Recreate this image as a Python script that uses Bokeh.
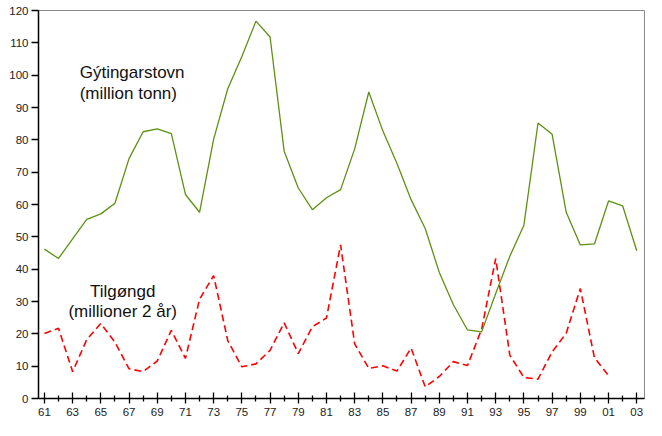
from bokeh.plotting import figure
from bokeh.models import FixedTicker, Range1d
from bokeh.core.properties import value
from bokeh.embed import file_html
from bokeh.resources import INLINE

years = list(range(1961, 2004))
gytingarstovn = [46.2, 43.3, 49.4, 55.4, 57.1, 60.4, 74.2, 82.5, 83.4, 81.9,
                 63.1, 57.6, 80.2, 95.8, 105.8, 116.7, 111.8, 76.5, 65.1, 58.4,
                 62.1, 64.6, 77.2, 94.8, 82.7, 72.7, 61.5, 52.6, 39.0, 29.0,
                 21.2, 20.6, 32.5, 44.0, 53.6, 85.2, 81.7, 57.6, 47.5, 47.8,
                 61.1, 59.6, 45.7]
tilgongd_years = list(range(1961, 2002))
tilgongd = [20.1, 21.7, 8.3, 18.2, 23.2, 17.4, 9.2, 8.3, 11.6, 21.1,
            12.4, 30.7, 38.0, 17.9, 9.8, 10.7, 14.9, 23.4, 13.9, 22.2,
            24.9, 47.5, 16.9, 9.3, 10.1, 8.5, 15.6, 3.6, 6.8, 11.4,
            10.2, 21.4, 43.3, 13.4, 6.5, 6.0, 14.4, 20.2, 34.0, 12.6,
            7.1]
major_years = list(range(1961, 2004, 2))
minor_years = list(range(1962, 2003, 2))
major_labels = {y: "%02d" % (y % 100) for y in major_years}
y_ticks = list(range(0, 121, 10))

p = figure(width=646, height=420, output_backend="svg", toolbar_location=None,
           x_range=Range1d(1960.58, 2003.55), y_range=Range1d(0, 120),
           min_border_left=38, min_border_right=2, min_border_top=10,
           min_border_bottom=22)
p.background_fill_color = "white"
p.border_fill_color = "white"
p.outline_line_color = "#8a8a8a"
p.outline_line_width = 1
p.xgrid.visible = False
p.ygrid.visible = False

p.line(tilgongd_years, tilgongd, line_color="#ff0000", line_width=1.6,
       line_dash="7 4")
p.line(years, gytingarstovn, line_color="#5e9112", line_width=1.3)

font = "Liberation Sans"
p.text(x=[1963.5, 1963.5], y=[100.7, 94.4],
       text=["Gýtingarstovn", "(million tonn)"],
       text_font=value(font), text_font_size="17px",
       text_color="#111111", text_align="left", text_baseline="alphabetic")
p.text(x=[1966.55, 1966.55], y=[33.2, 26.8],
       text=["Tilgøngd", "(millioner 2 år)"],
       text_font=value(font), text_font_size="17px",
       text_color="#111111", text_align="center", text_baseline="alphabetic")

xa = p.xaxis[0]
xa.ticker = FixedTicker(ticks=major_years, minor_ticks=minor_years)
xa.major_label_overrides = major_labels
xa.major_tick_in = 6
xa.major_tick_out = 5
xa.minor_tick_in = 3
xa.minor_tick_out = 3
xa.axis_line_width = 1.5
xa.major_tick_line_width = 1.3
xa.minor_tick_line_width = 1.3
xa.major_label_text_font = font
xa.major_label_text_font_size = "11.5px"
xa.major_label_text_color = "#222222"
xa.major_label_standoff = 4

ya = p.yaxis[0]
ya.ticker = FixedTicker(ticks=y_ticks, minor_ticks=[])
ya.major_tick_in = 0
ya.major_tick_out = 7
ya.axis_line_width = 1.5
ya.major_tick_line_width = 1.3
ya.major_label_text_font = font
ya.major_label_text_font_size = "11.5px"
ya.major_label_text_color = "#222222"
ya.major_label_standoff = 3

open("out.html", "w").write(file_html(p, INLINE))
